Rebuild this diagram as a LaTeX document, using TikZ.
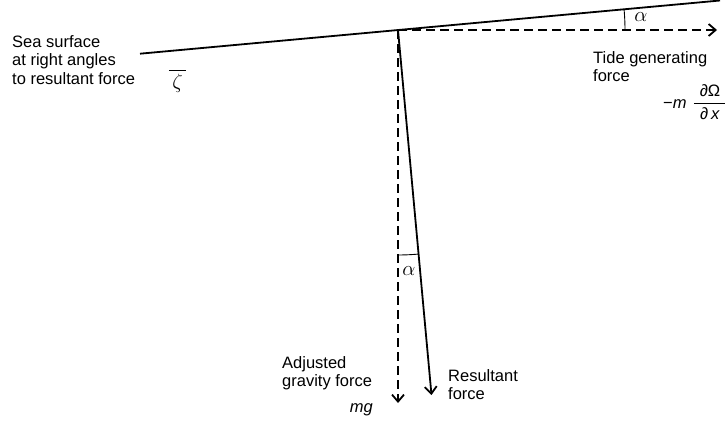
\documentclass[tikz,border=0pt]{standalone}
\usepackage{amsmath}
\usepackage{fontspec}
\setmainfont{Liberation Sans}
\usepackage{tikz}
\usetikzlibrary{arrows.meta,positioning,calc}

\begin{document}
\begin{tikzpicture}[x=1pt, y=-1pt, every node/.style={font=\fontsize{16.5}{18.5}\selectfont, inner sep=0pt}]
\tikzstyle{surface} = [line width=1.8pt]
\tikzstyle{arrow} = [line width=1.8pt, -{Straight Barb[length=7pt,width=12pt,line width=1.8pt]}]
\tikzstyle{dasharrow} = [arrow, dash pattern=on 9pt off 5pt]
\tikzstyle{label} = [align=left, anchor=north west]
\tikzstyle{anglemark} = [line width=0.9pt]
\tikzstyle{greek} = [font=\fontsize{20}{22}\selectfont]

\useasboundingbox (0,0) rectangle (725,423);

\coordinate (O) at (398,30);
\coordinate (surfL) at (140,53.7);
\coordinate (surfR) at (720,0.5);
\coordinate (tideTip) at (717,30);
\coordinate (gravTip) at (398,403);
\coordinate (resTip) at (431.5,395);

\draw[surface] (surfL) -- (surfR);
\draw[dasharrow] (O) -- (tideTip);
\draw[dasharrow] (O) -- (gravTip);
\draw[arrow] (O) -- (resTip);

\draw[anglemark] plot[domain=0:5.24, samples=12] ({398+227*cos(\x)}, {30-227*sin(\x)});
\draw[anglemark] plot[domain=0:5.24, samples=12] ({398+225*sin(\x)}, {30+225*cos(\x)});

\node (alphaTop) [greek] at (641,17) {$\alpha$};
\node (alphaLow) [greek] at (409,271) {$\alpha$};

\node (sea) [label] at (12,35) {Sea surface\\at right angles\\to resultant force};
\node (zeta) [greek, anchor=south] at (177.5,93) {$\overline{\rule{0pt}{15pt}\,\zeta\,}$};
\node (tide) [label] at (593,51) {Tide generating\\force};
\node (force) [anchor=base west] at (663,108) {−\textit{m}\hspace{6pt}$\dfrac{\hspace{6pt}\text{∂Ω}\hspace{6pt}}{\text{∂\,\textit{x}}}$};
\node (grav) [label] at (282,356) {Adjusted\\gravity force};
\node (mg) [anchor=base east] at (373,412) {\textit{mg}};
\node (res) [label] at (448,369) {Resultant\\force};
\end{tikzpicture}
\end{document}
